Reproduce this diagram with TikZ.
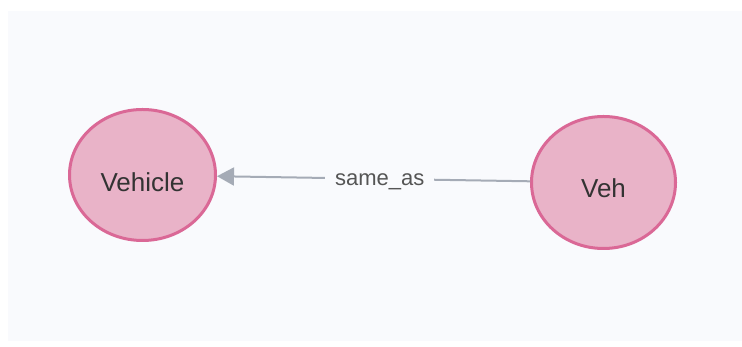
\documentclass[tikz,border=0pt]{standalone}
\usepackage{fontspec}
\setmainfont{Liberation Sans}
\usetikzlibrary{shapes.geometric,arrows.meta}
\definecolor{panelbg}{HTML}{F9FAFD}
\definecolor{nodefill}{HTML}{E9B3C8}
\definecolor{nodeline}{HTML}{DA6896}
\definecolor{edgecol}{HTML}{A5ABB6}
\definecolor{txtcol}{HTML}{333333}
\definecolor{lblcol}{HTML}{555555}
\tikzset{
  classnode/.style={ellipse, draw=nodeline, fill=nodefill, line width=3pt, inner sep=0pt},
  classtext/.style={text=txtcol, font=\fontsize{26}{30}\selectfont, inner sep=0pt},
  reledge/.style={draw=edgecol, line width=2pt, -{Triangle[length=17pt,width=18pt]}},
  rellabel/.style={fill=panelbg, text=lblcol, font=\fontsize{22}{26}\selectfont, inner xsep=10pt, inner ysep=4pt, yshift=-3pt}
}
\begin{document}
\begin{tikzpicture}[x=1pt,y=1pt]
\useasboundingbox (0,0) rectangle (742,347);
\fill[white] (0,0) rectangle (742,347);
\fill[panelbg] (8,6) rectangle (742,336);
\node[classnode, minimum width=146pt, minimum height=131pt] (vehicle) at (142.5,172) {};
\node[classnode, minimum width=144pt, minimum height=132pt] (veh) at (603.5,164.5) {};
\node[classtext] (vehicletext) at ([yshift=-7pt]vehicle.center) {Vehicle};
\node[classtext] (vehtext) at ([yshift=-6pt]veh.center) {Veh};
\draw[reledge] (veh) -- node[rellabel, pos=0.48] (rel) {same\_as} (vehicle);
\end{tikzpicture}
\end{document}
